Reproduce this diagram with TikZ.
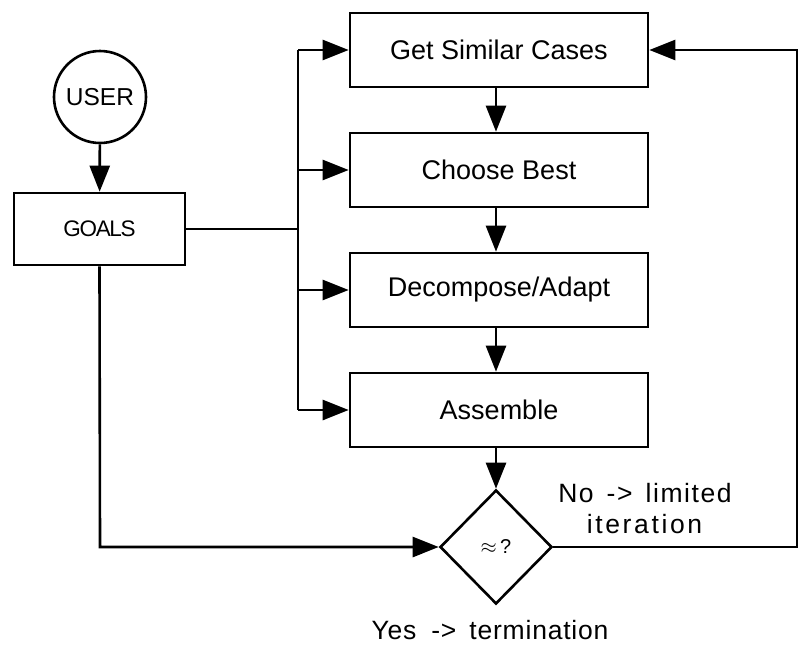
\documentclass[tikz,border=0pt]{standalone}
\usepackage{fontspec}
\setmainfont{Liberation Sans}
\usetikzlibrary{arrows.meta,shapes.geometric}
\begin{document}
\begin{tikzpicture}[x=1pt,y=-1pt,
  line width=2.6pt,
  every node/.style={font=\fontsize{27}{32}\selectfont},
  procbox/.style={draw,line width=2.6pt,minimum width=298pt,minimum height=74pt,inner sep=0pt},
  arr/.style={-{Triangle[length=26pt,width=20pt]}},
  lbl/.style={font=\fontsize{26.5}{31}\selectfont,inner sep=0pt,anchor=base}
]
\useasboundingbox (0,0) rectangle (800,646);
\node[draw,circle,minimum size=92pt,inner sep=0pt,font=\fontsize{24.5}{28}\selectfont] (user) at (100,97) {USER};
\node[draw,minimum width=171pt,minimum height=72pt,inner sep=0pt,font=\fontsize{22.5}{26}\selectfont] (goals) at (99.5,229) {\addfontfeature{LetterSpace=-6}GOALS};
\node[procbox] (get) at (499,50) {Get Similar Cases};
\node[procbox] (choose) at (499,170) {Choose Best};
\node[procbox] (decomp) at (499,290) {Decompose/Adapt};
\node[procbox] (assem) at (499,410) {Assemble};
\node[draw,diamond,inner sep=0pt,minimum width=112pt,minimum height=114pt,font=\fontsize{20}{24}\selectfont] (test) at (496,547) {$\approx$\,?};
\coordinate (bustop) at (298,50);
\coordinate (busbot) at (298,410);
\coordinate (busj) at (298,229);
\coordinate (lc) at (100,547);
\coordinate (rb) at (797,547);
\coordinate (rt) at (797,50);
\node[lbl] (nolbl) at (645,502) {\addfontfeature{LetterSpace=6}No\hspace{13pt}->\hspace{13pt}limited};
\node[lbl] (nolbl2) at (644.5,533) {\addfontfeature{LetterSpace=10}iteration};
\node[lbl] (yeslbl) at (490,639) {\addfontfeature{LetterSpace=3}Yes\hspace{15pt}->\hspace{13pt}termination};
\draw[arr] (user) -- (goals);
\draw (goals.east) -- (busj);
\draw (bustop) -- (busbot);
\draw[arr] (bustop) -- (get.west);
\draw[arr] (298,170) -- (choose.west);
\draw[arr] (298,290) -- (decomp.west);
\draw[arr] (busbot) -- (assem.west);
\draw[arr] (get.south -| test.north) -- (choose.north -| test.north);
\draw[arr] (choose.south -| test.north) -- (decomp.north -| test.north);
\draw[arr] (decomp.south -| test.north) -- (assem.north -| test.north);
\draw[arr] (assem.south -| test.north) -- (test.north);
\draw[arr] (goals.south) -- (lc) -- (test.west);
\draw[arr] (test.east) -- (rb) -- (rt) -- (get.east);
\end{tikzpicture}
\end{document}
